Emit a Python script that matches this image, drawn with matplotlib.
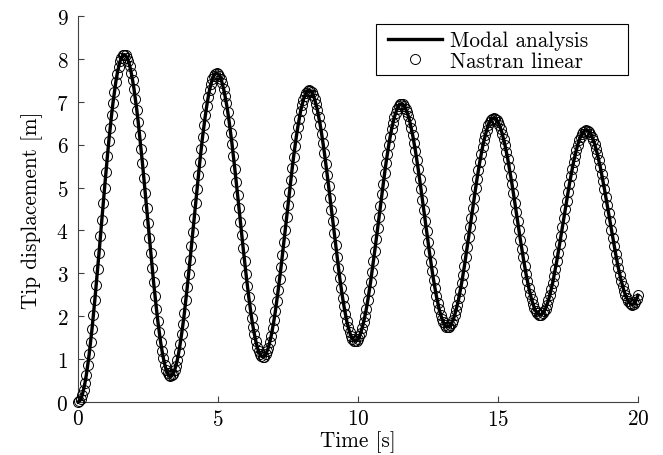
import numpy as np
import matplotlib.pyplot as plt
from matplotlib.patches import Rectangle

plt.rcParams['font.family'] = 'cmr10'
plt.rcParams['mathtext.fontset'] = 'cm'
plt.rcParams['axes.formatter.use_mathtext'] = True

# Tip displacement [m], sampled every 0.05 s from 0 to 20 s
dt = 0.05
tip_disp = [
    0.00, 0.02, 0.07, 0.16, 0.29, 0.45, 0.64, 0.87, 1.12, 1.40, 1.70,
    2.03, 2.37, 2.73, 3.10, 3.47, 3.86, 4.24, 4.63, 5.00, 5.37, 5.73,
    6.08, 6.40, 6.70, 6.98, 7.23, 7.46, 7.65, 7.81, 7.94, 8.03, 8.08, 8.10,
    8.08, 8.03, 7.95, 7.83, 7.68, 7.50, 7.30, 7.06, 6.81, 6.53, 6.22,
    5.91, 5.58, 5.23, 4.88, 4.53, 4.17, 3.82, 3.47, 3.12, 2.79, 2.48,
    2.18, 1.89, 1.64, 1.40, 1.20, 1.02, 0.87, 0.75, 0.67, 0.62, 0.60,
    0.62, 0.66, 0.74, 0.85, 0.99, 1.16, 1.36, 1.58, 1.82, 2.08, 2.37,
    2.67, 2.98, 3.30, 3.63, 3.97, 4.30, 4.64, 4.97, 5.29, 5.60, 5.90,
    6.19, 6.45, 6.69, 6.91, 7.11, 7.28, 7.42, 7.53, 7.61, 7.65, 7.67,
    7.65, 7.61, 7.54, 7.43, 7.30, 7.14, 6.96, 6.76, 6.53, 6.28, 6.02,
    5.74, 5.44, 5.14, 4.83, 4.52, 4.20, 3.89, 3.58, 3.28, 2.99, 2.71,
    2.44, 2.19, 1.96, 1.76, 1.58, 1.42, 1.29, 1.18, 1.11, 1.07, 1.05,
    1.06, 1.11, 1.18, 1.27, 1.40, 1.54, 1.72, 1.91, 2.12, 2.36, 2.61,
    2.87, 3.14, 3.43, 3.72, 4.01, 4.31, 4.60, 4.89, 5.18, 5.45, 5.72,
    5.96, 6.20, 6.41, 6.60, 6.78, 6.92, 7.05, 7.14, 7.21, 7.26, 7.27,
    7.26, 7.22, 7.15, 7.06, 6.94, 6.81, 6.64, 6.46, 6.26, 6.04, 5.81,
    5.56, 5.30, 5.03, 4.76, 4.48, 4.21, 3.93, 3.66, 3.39, 3.13, 2.88,
    2.65, 2.43, 2.23, 2.05, 1.88, 1.75, 1.63, 1.54, 1.47, 1.43, 1.42,
    1.43, 1.47, 1.53, 1.62, 1.73, 1.86, 2.01, 2.18, 2.37, 2.58, 2.80,
    3.04, 3.28, 3.53, 3.79, 4.05, 4.32, 4.58, 4.84, 5.09, 5.33, 5.57,
    5.79, 6.00, 6.19, 6.36, 6.51, 6.64, 6.75, 6.84, 6.90, 6.94, 6.95,
    6.94, 6.90, 6.84, 6.76, 6.66, 6.54, 6.39, 6.23, 6.05, 5.86, 5.65,
    5.43, 5.20, 4.96, 4.72, 4.47, 4.23, 3.98, 3.74, 3.50, 3.27, 3.05,
    2.84, 2.65, 2.47, 2.31, 2.16, 2.04, 1.94, 1.86, 1.80, 1.76, 1.75,
    1.76, 1.79, 1.85, 1.92, 2.02, 2.14, 2.27, 2.42, 2.59, 2.77, 2.97,
    3.17, 3.39, 3.61, 3.84, 4.07, 4.30, 4.53, 4.76, 4.98, 5.20, 5.40,
    5.60, 5.78, 5.95, 6.10, 6.23, 6.35, 6.45, 6.52, 6.58, 6.61, 6.62,
    6.61, 6.58, 6.53, 6.46, 6.36, 6.26, 6.13, 5.99, 5.83, 5.66, 5.47,
    5.28, 5.08, 4.87, 4.65, 4.43, 4.22, 4.00, 3.78, 3.57, 3.37, 3.18,
    2.99, 2.82, 2.66, 2.52, 2.39, 2.29, 2.19, 2.12, 2.07, 2.04, 2.03,
    2.04, 2.07, 2.12, 2.18, 2.27, 2.37, 2.49, 2.63, 2.77, 2.94, 3.11,
    3.29, 3.48, 3.68, 3.88, 4.08, 4.29, 4.49, 4.69, 4.89, 5.08, 5.26,
    5.43, 5.60, 5.74, 5.88, 6.00, 6.10, 6.19, 6.25, 6.30, 6.33, 6.34,
    6.33, 6.30, 6.26, 6.19, 6.11, 6.02, 5.90, 5.78, 5.64, 5.49, 5.32,
    5.15, 4.97, 4.78, 4.59, 4.40, 4.21, 4.02, 3.83, 3.64, 3.46, 3.29,
    3.12, 2.97, 2.83, 2.71, 2.59, 2.50, 2.42, 2.35, 2.31, 2.28, 2.27,
    2.29, 2.33, 2.40, 2.49,
]
time = np.arange(len(tip_disp)) * dt

fs = 15.3
fig = plt.figure(figsize=(6.63, 4.56), dpi=100)
ax = fig.add_axes([78 / 663, 53 / 456, 560 / 663, 386 / 456])

ax.plot(time, tip_disp, color='black', lw=2.4, label='Modal analysis',
        clip_on=False, zorder=3)
ax.plot(time, tip_disp, ls='none', marker='o', ms=7.2, mfc='none',
        mec='black', mew=0.7, label='Nastran linear', clip_on=False, zorder=4)

ax.set_xlim(0, 20)
ax.set_ylim(0, 9)
ax.set_xticks([0, 5, 10, 15, 20])
ax.set_yticks(range(10))

for side in ['top', 'right']:
    ax.spines[side].set_visible(False)
for side in ['left', 'bottom']:
    ax.spines[side].set_color('#404040')
    ax.spines[side].set_linewidth(0.8)
ax.tick_params(direction='in', length=4.3, width=0.8, color='#404040',
               labelsize=fs)
ax.tick_params(axis='x', pad=5)
ax.tick_params(axis='y', pad=7)

ax.set_xlabel('Time [s]', fontsize=fs, labelpad=1)
ax.set_ylabel('Tip displacement [m]', fontsize=fs, labelpad=9)

# legend entries without frame, plus a plain box drawn around them
leg = ax.legend(loc='upper left', bbox_to_anchor=(0.5536, 0.962),
                fontsize=fs, frameon=False, borderaxespad=0, borderpad=0,
                handlelength=2.55, handletextpad=0.38, labelspacing=0.05)
leg.set_zorder(6)
ax.add_patch(Rectangle((0.532, 0.847), 0.45, 0.132, transform=ax.transAxes,
                       facecolor='white', edgecolor='black', lw=0.8,
                       zorder=5, clip_on=False))

fig.savefig('out.png', dpi=100)
